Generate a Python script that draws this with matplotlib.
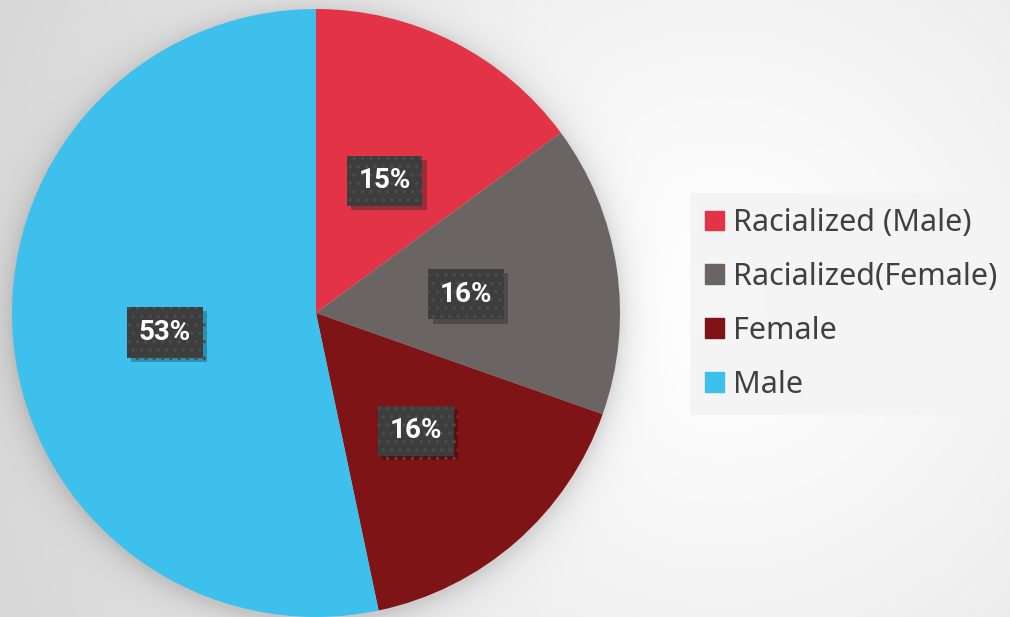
import matplotlib.pyplot as plt
import matplotlib.patches as mpatches
import matplotlib.patheffects as pe
import numpy as np

plt.rcParams['font.family'] = ['Noto Sans', 'DejaVu Sans']
plt.rcParams['hatch.linewidth'] = 1.2

# data
labels = ['Racialized (Male)', 'Racialized(Female)', 'Female', 'Male']
values = [14.9, 15.5, 16.3, 53.3]
colors = ['#e33447', '#6a6462', '#7e1416', '#3ec0ec']

W, H = 1010, 617
fig = plt.figure(figsize=(W / 100, H / 100), dpi=100)

# background: soft radial gradient plus shadow round the pie
cx, cy, r = 316, 313, 304
yy, xx = np.mgrid[0:H, 0:W]
dist = np.hypot(xx - 720, yy - 300)
bg = 1.0 - 0.15 * np.clip(dist / 750, 0, 1) ** 1.3
dpie = np.hypot(xx - cx, yy - (cy + 3)) - r
shadow = np.where(dpie > 0, np.exp(-dpie / 14.0), 1.0) * 0.12
bg = bg - shadow
bgax = fig.add_axes([0, 0, 1, 1])
bgax.imshow(np.dstack([bg, bg, bg]), extent=[0, W, H, 0], aspect='auto')
bgax.axis('off')

# pie
ax = fig.add_axes([(cx - r) / W, (H - cy - r) / H, 2 * r / W, 2 * r / H])
wedges, _ = ax.pie(values, colors=colors, startangle=90, counterclock=False,
                   radius=1, wedgeprops=dict(linewidth=0))
ax.set_xlim(-1, 1)
ax.set_ylim(-1, 1)
ax.axis('off')

# percentage labels in dark dotted boxes
start = 90.0
total = sum(values)
for v in values:
    ang = start - v / total * 360 / 2
    start -= v / total * 360
    x = 0.5 * np.cos(np.radians(ang))
    y = 0.5 * np.sin(np.radians(ang)) - 0.012
    t = ax.text(x, y, '%d%%' % round(v), ha='center', va='center',
                fontsize=20, fontweight='bold', color='white',
                family=['Roboto', 'DejaVu Sans'],
                bbox=dict(boxstyle='square,pad=0.42', facecolor='#3d3d3d',
                          edgecolor='#4c4c4c', hatch='..', linewidth=0))
    t.get_bbox_patch().set_path_effects([
        pe.SimplePatchShadow(offset=(3, -3), shadow_rgbFace='black', alpha=0.25),
        pe.Normal()])

# legend
handles = [mpatches.Patch(color=c) for c in colors]
leg = fig.legend(handles, labels, loc='center left',
                 bbox_to_anchor=(690 / W, 1 - 304 / H), fontsize=22,
                 frameon=True, fancybox=False, handlelength=0.62,
                 handleheight=0.62, handletextpad=0.3, labelspacing=0.78,
                 borderpad=0.5, borderaxespad=0, labelcolor='#404040')
leg.get_frame().set_facecolor('#f4f4f4')
leg.get_frame().set_edgecolor('none')
leg.get_frame().set_alpha(0.9)

fig.savefig('out.png', dpi=100)
